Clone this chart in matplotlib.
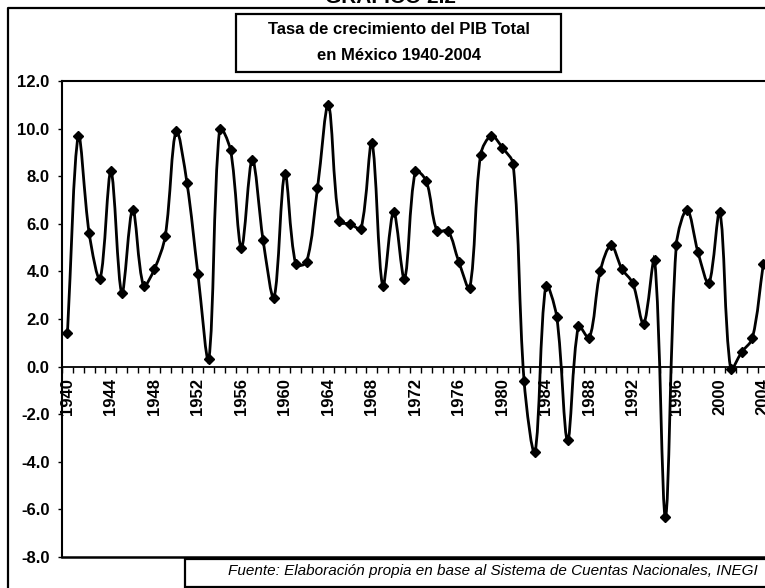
import matplotlib
matplotlib.use('Agg')
import matplotlib.pyplot as plt
import numpy as np
from matplotlib.path import Path
from matplotlib.patches import PathPatch, Rectangle
from matplotlib.lines import Line2D

plt.rcParams['font.family'] = ['Liberation Sans', 'DejaVu Sans']

# Data (annual GDP growth, %)
years = list(range(1940, 2005))
growth = [1.4, 9.7, 5.6, 3.7, 8.2, 3.1, 6.6, 3.4, 4.1, 5.5,
          9.9, 7.7, 3.9, 0.3, 10.0, 9.1, 5.0, 8.7, 5.3, 2.9,
          8.1, 4.3, 4.4, 7.5, 11.0, 6.1, 6.0, 5.8, 9.4, 3.4,
          6.5, 3.7, 8.2, 7.8, 5.7, 5.7, 4.4, 3.3, 8.9, 9.7,
          9.2, 8.5, -0.6, -3.6, 3.4, 2.1, -3.1, 1.7, 1.2, 4.0,
          5.1, 4.1, 3.5, 1.8, 4.5, -6.3, 5.1, 6.6, 4.8, 3.5,
          6.5, -0.1, 0.6, 1.2, 4.3]
year_labels = [str(y) for y in years[::4]]
y_ticks = [-8, -6, -4, -2, 0, 2, 4, 6, 8, 10, 12]

W, H = 765, 588
fig = plt.figure(figsize=(W / 100, H / 100), dpi=100)

def fx(px):
    return px / W

def fy(py):
    return 1 - py / H

# plot area (right edge runs off the picture, as in the scan)
left_px, right_px, top_px, bot_px = 62, 768.7, 81, 557
ax = fig.add_axes([fx(left_px), fy(bot_px), fx(right_px - left_px),
                   (bot_px - top_px) / H])

x = np.arange(len(growth))
y = np.array(growth)

# smoothed line like Excel: bezier whose tangents are weighted by the
# on-screen length of the neighbouring segments
sx = (right_px - left_px) / len(growth)      # px per category
sy = (bot_px - top_px) / 20.0                # px per unit
pts = np.column_stack([x, y]).astype(float)
ext = np.vstack([pts[0], pts, pts[-1]])

def seglen(a, b):
    return np.hypot((b[0] - a[0]) * sx, (b[1] - a[1]) * sy)

verts = [pts[0]]
codes = [Path.MOVETO]
for i in range(len(pts) - 1):
    p0, p1, p2, p3 = ext[i], ext[i + 1], ext[i + 2], ext[i + 3]
    d01, d12, d23 = seglen(p0, p1), seglen(p1, p2), seglen(p2, p3)
    w1 = d12 / (d01 + d12) if d01 + d12 > 0 else 0.5
    w2 = d12 / (d12 + d23) if d12 + d23 > 0 else 0.5
    c1 = p1 + (p2 - p0) * w1 / 3
    c2 = p2 - (p3 - p1) * w2 / 3
    verts += [c1, c2, p2]
    codes += [Path.CURVE4] * 3
ax.add_patch(PathPatch(Path(verts, codes), fill=False, lw=2.0,
                       edgecolor='black', zorder=3))
ax.plot(x, y, ls='none', marker='D', ms=5, color='black', zorder=4)

ax.set_xlim(-0.5, len(growth) - 0.5)
ax.set_ylim(-8, 12)

# category axis crosses at zero
ax.spines['bottom'].set_position(('data', 0))
ax.spines['bottom'].set_linewidth(1.3)
ax.spines['left'].set_linewidth(1.5)
ax.spines['top'].set_linewidth(1.5)
ax.spines['right'].set_visible(False)
ax.axhline(-8, color='black', lw=1.8, clip_on=False)

ax.set_xticks(x[::4])
ax.set_xticklabels(year_labels, rotation=90, fontweight='bold', fontsize=12)
ax.set_xticks(np.arange(-0.5, len(growth), 1), minor=True)
ax.tick_params(axis='x', which='major', length=0, pad=8.5)
ax.tick_params(axis='x', which='minor', length=4, width=1, direction='out')

ax.set_yticks(y_ticks)
ax.set_yticklabels([f"{v:.1f}" for v in y_ticks], fontweight='bold', fontsize=12)
ax.tick_params(axis='y', length=3, width=1, pad=6)

# outer chart frame
fig.add_artist(Line2D([fx(8), fx(8), fx(770)], [fy(600), fy(8), fy(8)],
                      color='black', lw=1.6))

# cut-off heading at the very top
fig.text(fx(391), fy(3), 'GRÁFICO 2.2', ha='center', va='baseline',
         fontsize=15, fontweight='bold')

# title box
fig.add_artist(Rectangle((fx(236), fy(72)), fx(561 - 236), (72 - 14) / H,
                         transform=fig.transFigure, facecolor='white',
                         edgecolor='black', lw=1.6))
fig.text(fx(399), fy(30), 'Tasa de crecimiento del PIB Total', ha='center',
         va='center', fontsize=12, fontweight='bold')
fig.text(fx(399), fy(55), 'en México 1940-2004', ha='center',
         va='center', fontsize=12, fontweight='bold')

# source box
fig.add_artist(Rectangle((fx(185), fy(587)), fx(800 - 185), (587 - 559) / H,
                         transform=fig.transFigure, facecolor='white',
                         edgecolor='black', lw=1.6))
fig.text(fx(228), fy(571), 'Fuente: Elaboración propia en base al Sistema de '
         'Cuentas Nacionales, INEGI', ha='left', va='center',
         fontsize=11, style='italic')

fig.savefig('out.png', dpi=100, facecolor='white')
